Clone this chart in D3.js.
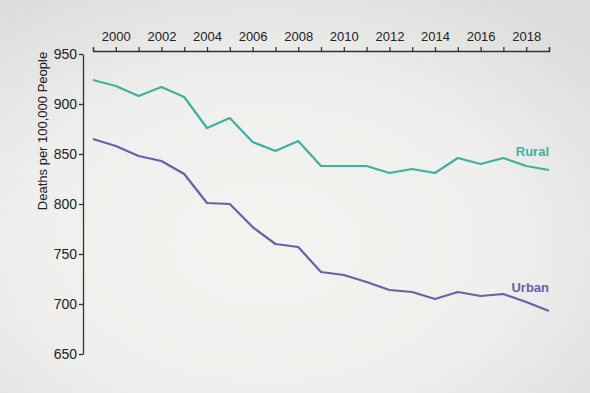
<!DOCTYPE html>
<html>
<head>
<meta charset="utf-8">
<script src="https://cdn.jsdelivr.net/npm/d3@7"></script>
<style>
  html, body { margin: 0; padding: 0; }
  body { width: 590px; height: 393px; overflow: hidden; }
  svg { display: block; font-family: "Liberation Sans", Arial, sans-serif; }
  .axis path, .axis line { stroke: #333; stroke-width: 1.3; }
  .axis text { fill: #222; font-size: 13px; }
</style>
</head>
<body>
<svg id="chart" width="590" height="393"></svg>
<script>
var years = d3.range(1999, 2020)
var rural = [924, 918, 908, 917, 907, 876, 886, 862, 853, 863, 838, 838, 838, 831, 835, 831, 846, 840, 846, 838, 834]
var urban = [865, 858, 848, 843, 830, 801, 800, 777, 760, 757, 732, 729, 722, 714, 712, 705, 712, 708, 710, 702, 693]
var yTicks = [650, 700, 750, 800, 850, 900, 950]
var xTicks = [2000, 2002, 2004, 2006, 2008, 2010, 2012, 2014, 2016, 2018]

var svg = d3.select('#chart')

// soft vignette background
var defs = svg.append('defs')
var grad = defs.append('radialGradient')
  .attr('id', 'bg')
  .attr('cx', '45%').attr('cy', '62%').attr('r', '75%')
grad.append('stop').attr('offset', '0%').attr('stop-color', '#f3f3f0')
grad.append('stop').attr('offset', '55%').attr('stop-color', '#efefed')
grad.append('stop').attr('offset', '100%').attr('stop-color', '#dcdcdc')

svg.append('rect')
  .attr('width', 590).attr('height', 393)
  .attr('fill', 'url(#bg)')

var x = d3.scaleLinear().domain([1999, 2019]).range([93, 549])
var y = d3.scaleLinear().domain([650, 950]).range([354, 54])

svg.append('g')
  .attr('class', 'axis')
  .attr('transform', 'translate(0,51)')
  .call(d3.axisTop(x).tickValues(years).tickSize(4).tickSizeOuter(4)
    .tickFormat(function (d) { return xTicks.indexOf(d) > -1 ? d : '' }))
  .call(function (g) { g.selectAll('text').attr('dy', '-0.2em') })

svg.append('g')
  .attr('class', 'axis')
  .attr('transform', 'translate(83,0)')
  .call(d3.axisLeft(y).tickValues(yTicks).tickSize(4).tickSizeOuter(0)
    .tickFormat(d3.format('d')))
  .call(function (g) { g.selectAll('text').attr('x', -6).style('font-size', '14px') })

svg.append('text')
  .attr('transform', 'translate(47,131) rotate(-90)')
  .attr('text-anchor', 'middle')
  .attr('fill', '#222')
  .style('font-size', '13px')
  .text('Deaths per 100,000 People')

var line = d3.line()
  .x(function (d, i) { return x(years[i]) })
  .y(function (d) { return y(d) })

var series = [
  { name: 'Rural', values: rural, color: '#39b3a0', ly: 156 },
  { name: 'Urban', values: urban, color: '#6262ad', ly: 292 }
]

svg.selectAll('.series')
  .data(series)
  .enter().append('path')
    .attr('class', 'series')
    .attr('d', function (d) { return line(d.values) })
    .attr('fill', 'none')
    .attr('stroke', function (d) { return d.color })
    .attr('stroke-width', 2.2)
    .attr('stroke-linejoin', 'round')

svg.selectAll('.label')
  .data(series)
  .enter().append('text')
    .attr('class', 'label')
    .attr('x', 549)
    .attr('y', function (d) { return d.ly })
    .attr('text-anchor', 'end')
    .attr('fill', function (d) { return d.color })
    .style('font-size', '13px')
    .style('font-weight', 'bold')
    .text(function (d) { return d.name })
</script>
</body>
</html>
